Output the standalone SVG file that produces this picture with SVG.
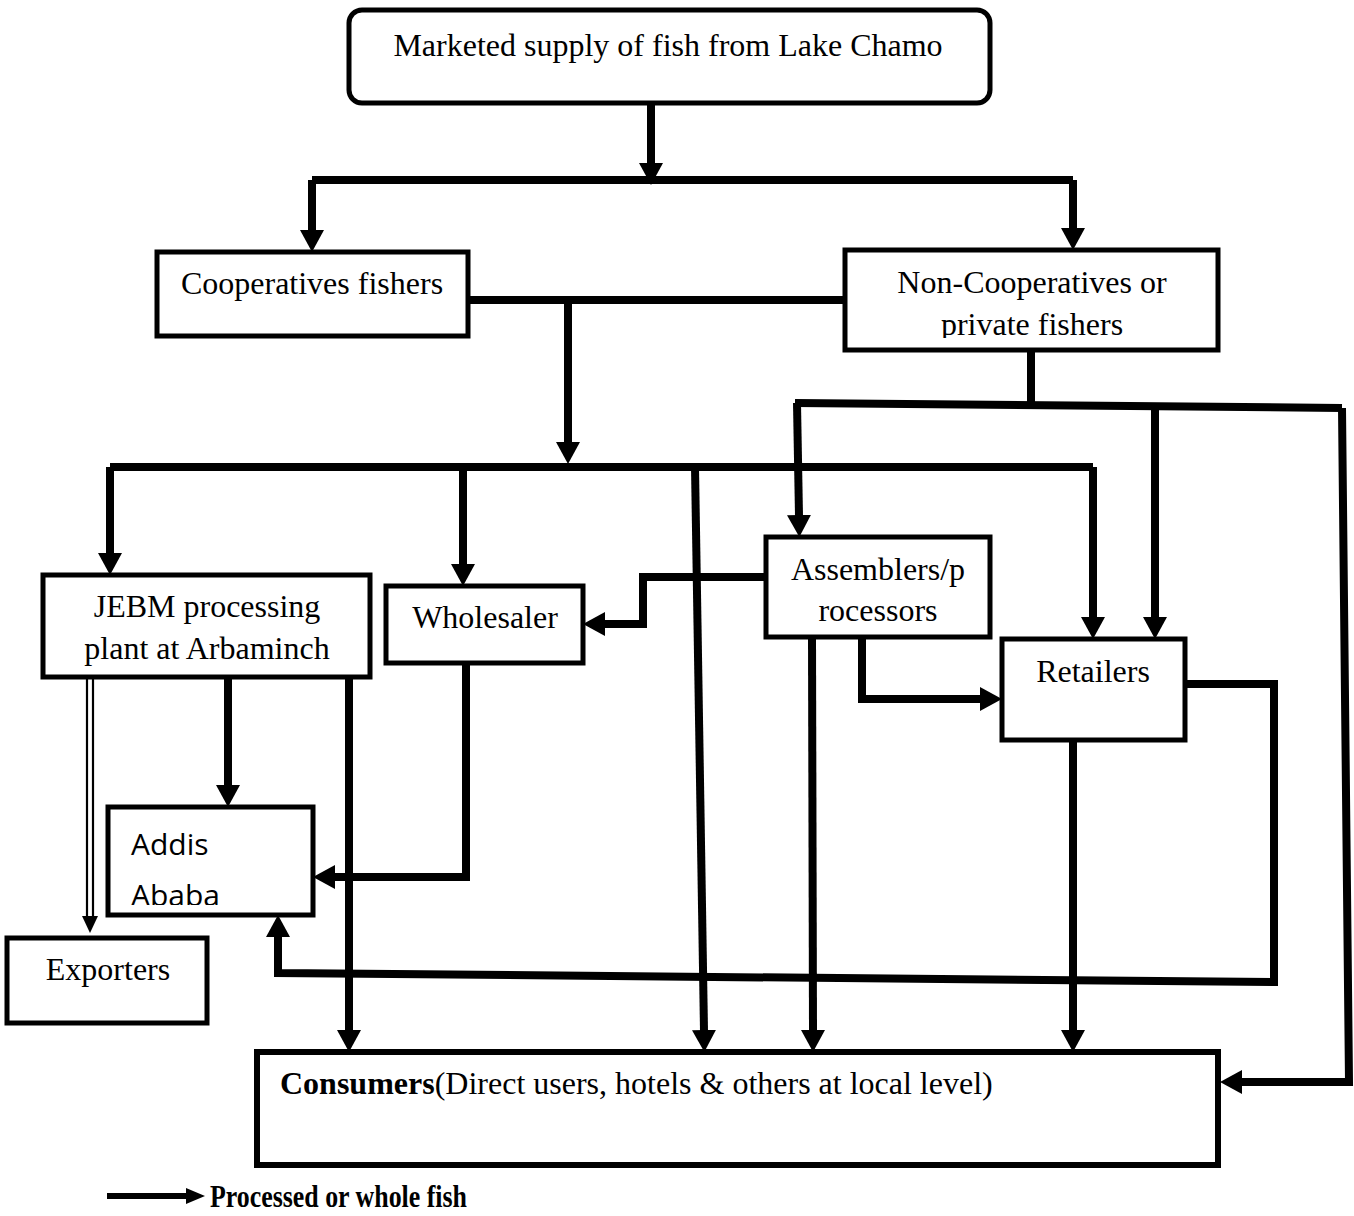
<svg xmlns="http://www.w3.org/2000/svg" width="1354" height="1216" viewBox="0 0 1354 1216">
<style>
.box{fill:#fff;stroke:#000;stroke-width:5}
.t{font-family:"Liberation Serif","Times New Roman",serif;font-size:32px;fill:#000}
.c{text-anchor:middle}
.s{font-family:"Open Sans","Noto Sans",sans-serif;font-size:30px;fill:#000}
.ln{fill:none;stroke:#000;stroke-width:8;stroke-linejoin:miter}
.a{marker-end:url(#ah)}
</style>
<defs>
<marker id="ah" viewBox="0 0 22 24" refX="1" refY="12" markerWidth="22" markerHeight="24" markerUnits="userSpaceOnUse" orient="auto">
<path d="M0,0 L22,12 L0,24 z" fill="#000"/>
</marker>
<clipPath id="clipNC"><rect x="845" y="250" width="373" height="88"/></clipPath>
<clipPath id="clipAA"><rect x="108" y="807" width="205" height="98"/></clipPath>
</defs>

<g id="connectors">
<path class="ln a" d="M651,103 V164"/>
<path class="ln" d="M312,180 H1073"/>
<path class="ln a" d="M312,180 V231"/>
<path class="ln a" d="M1073,180 V229"/>
<path class="ln" d="M468,300 H845"/>
<path class="ln a" d="M568,300 V443"/>
<path class="ln" d="M110,467 H1093"/>
<path class="ln a" d="M110,467 V554"/>
<path class="ln a" d="M463,467 V565"/>
<path class="ln a" d="M1093,467 V618"/>
<path class="ln a" d="M695,467 L704,1031"/>
<path class="ln" d="M1031,350 V404"/>
<path class="ln" d="M795,403 L1342,408"/>
<path class="ln a" d="M797,403 L799,516"/>
<path class="ln a" d="M1155,406 V618"/>
<path class="ln a" d="M1342,408 L1349,1082 H1241"/>
<path class="ln a" d="M766,577 H643 V624 H604"/>
<path class="ln a" d="M812,637 L813,1031"/>
<path class="ln a" d="M862,637 V699 H981"/>
<path class="ln a" d="M1185,684 H1274 V982 L278,973 V936"/>
<path class="ln a" d="M1073,740 V1031"/>
<path d="M87,677 V918 M93,677 V918" fill="none" stroke="#000" stroke-width="2.2"/>
<path d="M82,916 L98,916 L90,933 z" fill="#000"/>
<path class="ln a" d="M228,677 V786"/>
<path class="ln a" d="M349,677 V1031"/>
<path class="ln a" d="M466,663 V877 H334"/>
</g>

<g id="n-top">
<rect class="box" x="349" y="10" width="641" height="93" rx="13"/>
<text class="t c" x="668" y="56">Marketed supply of fish from Lake Chamo</text>
</g>
<g id="n-coop">
<rect class="box" x="157" y="252" width="311" height="84"/>
<text class="t c" x="312" y="294">Cooperatives fishers</text>
</g>
<g id="n-noncoop">
<rect class="box" x="845" y="250" width="373" height="100"/>
<g clip-path="url(#clipNC)">
<text class="t c" x="1032" y="293">Non-Cooperatives or</text>
<text class="t c" x="1032" y="335">private fishers</text>
</g>
</g>
<g id="n-jebm">
<rect class="box" x="43" y="575" width="327" height="102"/>
<text class="t c" x="207" y="617">JEBM processing</text>
<text class="t c" x="207" y="659">plant at Arbaminch</text>
</g>
<g id="n-wholesaler">
<rect class="box" x="386" y="586" width="197" height="77"/>
<text class="t c" x="485" y="628">Wholesaler</text>
</g>
<g id="n-assemblers">
<rect class="box" x="766" y="537" width="224" height="100"/>
<text class="t c" x="878" y="580">Assemblers/p</text>
<text class="t c" x="878" y="621">rocessors</text>
</g>
<g id="n-retailers">
<rect class="box" x="1002" y="639" width="183" height="101"/>
<text class="t c" x="1093" y="682">Retailers</text>
</g>
<g id="n-addis">
<rect class="box" x="108" y="807" width="205" height="108"/>
<g clip-path="url(#clipAA)">
<text class="s" x="131" y="855">Addis</text>
<text class="s" x="131" y="906">Ababa</text>
</g>
</g>
<g id="n-exporters">
<rect class="box" x="7" y="938" width="200" height="85"/>
<text class="t c" x="108" y="980">Exporters</text>
</g>
<g id="n-consumers">
<rect class="box" x="257" y="1052" width="961" height="113" style="stroke-width:6"/>
<text class="t" x="280" y="1094"><tspan font-weight="bold">Consumers</tspan>(Direct users, hotels &amp; others at local level)</text>
</g>

<g id="legend">
<path d="M107,1196 H190" stroke="#000" stroke-width="6" fill="none"/>
<path d="M186,1188 L205,1196 L186,1204 z" fill="#000"/>
<text x="210" y="1207" font-family="Liberation Serif, serif" font-weight="bold" font-size="32" textLength="257" lengthAdjust="spacingAndGlyphs">Processed or whole fish</text>
</g>
</svg>
